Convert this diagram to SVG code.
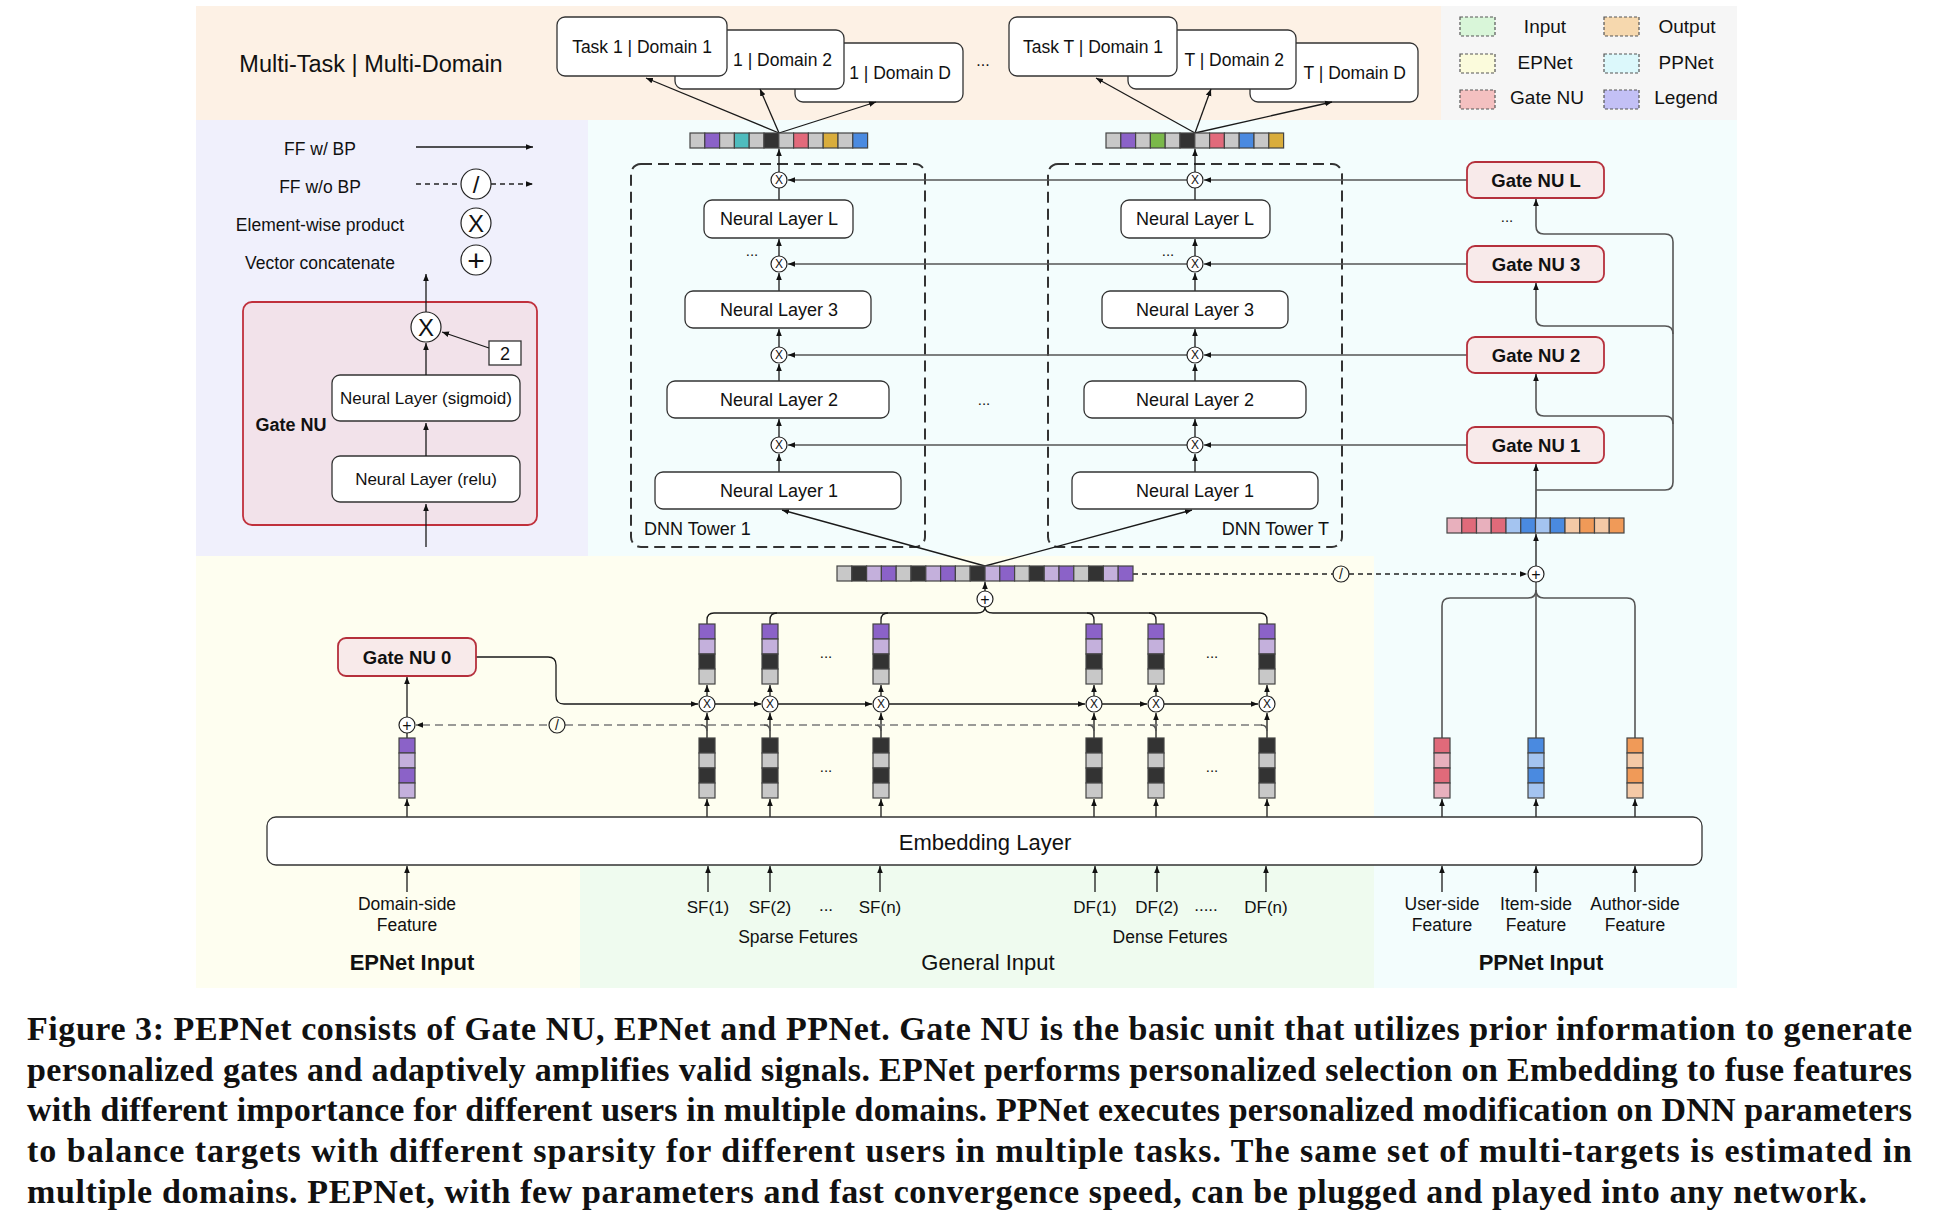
<svg xmlns="http://www.w3.org/2000/svg" xmlns:xlink="http://www.w3.org/1999/xlink" width="1944" height="1226" viewBox="0 0 1944 1226">
<defs>
<style>
.t{font-family:"Liberation Sans",Arial,Helvetica,sans-serif;fill:#111}
.m{text-anchor:middle}
.e{text-anchor:end}
.b{font-weight:bold}
.cap{font-family:"Liberation Serif","Times New Roman",serif;font-weight:bold;font-size:34px;fill:#111}
.ln{stroke:#1a1a1a;stroke-width:1.3;fill:none}
.gl{stroke:#555;stroke-width:1.6;fill:none}
.ds{stroke:#7a7a7a;stroke-width:1.7;fill:none;stroke-dasharray:8 5}
.dk{stroke:#222;stroke-width:1.3;fill:none;stroke-dasharray:5 4}
.tb{stroke:#333;stroke-width:2;fill:none;stroke-dasharray:11 6}
.box{fill:#fff;stroke:#333;stroke-width:1.3}
.gate{fill:#f8eaea;stroke:#b5303c;stroke-width:1.8}
.cir{fill:#fff;stroke:#222;stroke-width:1.2}
.cl{stroke:#444;stroke-width:1.2}
.lg{stroke:#555;stroke-width:1.2;stroke-dasharray:3 2}
</style>
<marker id="a" viewBox="0 0 10 10" refX="10" refY="5" markerWidth="7" markerHeight="7" markerUnits="userSpaceOnUse" orient="auto"><path d="M0,1L10,5L0,9z" fill="#111"/></marker>
<g id="vt">
<rect class="cl" x="-8" y="0" width="16" height="15" fill="#8b62c8"/>
<rect class="cl" x="-8" y="15" width="16" height="15" fill="#c4b0dc"/>
<rect class="cl" x="-8" y="30" width="16" height="15" fill="#333"/>
<rect class="cl" x="-8" y="45" width="16" height="15" fill="#c8c8c8"/>
</g>
<g id="vb">
<rect class="cl" x="-8" y="0" width="16" height="15" fill="#333"/>
<rect class="cl" x="-8" y="15" width="16" height="15" fill="#c8c8c8"/>
<rect class="cl" x="-8" y="30" width="16" height="15" fill="#333"/>
<rect class="cl" x="-8" y="45" width="16" height="15" fill="#c8c8c8"/>
</g>
</defs>

<rect width="1944" height="1226" fill="#fff"/>

<g id="backgrounds">
<rect x="196" y="6" width="1245" height="114" fill="#fdf1e5"/>
<rect x="1441" y="6" width="296" height="114" fill="#f6f6f6"/>
<rect x="196" y="120" width="392" height="436" fill="#f0f0fc"/>
<rect x="588" y="120" width="1149" height="436" fill="#f3fdfd"/>
<rect x="196" y="556" width="1178" height="432" fill="#fefef0"/>
<rect x="580" y="865" width="794" height="123" fill="#effbef"/>
<rect x="1374" y="556" width="363" height="432" fill="#f3fdfd"/>
</g>

<g id="legend-colors">
<rect class="lg" x="1460" y="17" width="35" height="19" fill="#d9f6d9"/>
<rect class="lg" x="1460" y="54" width="35" height="19" fill="#fbfbdc"/>
<rect class="lg" x="1460" y="90" width="35" height="19" fill="#f4c0c0"/>
<rect class="lg" x="1604" y="17" width="35" height="19" fill="#f6d8ae"/>
<rect class="lg" x="1604" y="54" width="35" height="19" fill="#dcf8fb"/>
<rect class="lg" x="1604" y="90" width="35" height="19" fill="#c3c0f6"/>
<text class="t m" x="1545" y="33" font-size="19">Input</text>
<text class="t m" x="1545" y="69" font-size="19">EPNet</text>
<text class="t m" x="1547" y="104" font-size="19">Gate NU</text>
<text class="t m" x="1687" y="33" font-size="19">Output</text>
<text class="t m" x="1686" y="69" font-size="19">PPNet</text>
<text class="t m" x="1686" y="104" font-size="19">Legend</text>
</g>

<g id="title">
<text class="t m" x="371" y="72" font-size="23.5">Multi-Task | Multi-Domain</text>
<text class="t m" x="983" y="66" font-size="16">...</text>
</g>

<g id="tasks-tower1">
<rect class="box" x="795" y="43" width="168" height="59" rx="8"/>
<text class="t e" x="951" y="79" font-size="17.5">1 | Domain D</text>
<rect class="box" x="675" y="30" width="169" height="59" rx="8"/>
<text class="t e" x="832" y="66" font-size="17.5">1 | Domain 2</text>
<rect class="box" x="557" y="17" width="170" height="59" rx="8"/>
<text class="t m" x="642" y="53" font-size="17.5">Task 1 | Domain 1</text>
</g>
<g id="tasks-towerT">
<rect class="box" x="1250" y="43" width="168" height="59" rx="8"/>
<text class="t e" x="1406" y="79" font-size="17.5">T | Domain D</text>
<rect class="box" x="1128" y="30" width="168" height="59" rx="8"/>
<text class="t e" x="1284" y="66" font-size="17.5">T | Domain 2</text>
<rect class="box" x="1009" y="17" width="168" height="59" rx="8"/>
<text class="t m" x="1093" y="53" font-size="17.5">Task T | Domain 1</text>
</g>

<g id="legend-panel">
<text class="t m" x="320" y="155" font-size="17.5">FF w/ BP</text>
<text class="t m" x="320" y="193" font-size="17.5">FF w/o BP</text>
<text class="t m" x="320" y="231" font-size="17.5">Element-wise product</text>
<text class="t m" x="320" y="269" font-size="17.5">Vector concatenate</text>
</g>

<g id="gate-nu-detail">
<rect x="243" y="302" width="294" height="223" rx="9" fill="#f2e2ea" stroke="#c0303c" stroke-width="1.8"/>
<text class="t m b" x="291" y="431" font-size="18">Gate NU</text>
<rect x="489" y="341" width="32" height="24" fill="#fff" stroke="#333" stroke-width="1.3"/>
<text class="t m" x="505" y="360" font-size="18">2</text>
<rect class="box" x="332" y="375" width="188" height="46" rx="8"/>
<text class="t m" x="426" y="404" font-size="17">Neural Layer (sigmoid)</text>
<rect class="box" x="332" y="456" width="188" height="46" rx="8"/>
<text class="t m" x="426" y="485" font-size="17">Neural Layer (relu)</text>
</g>

<g id="tower1-frame"><rect class="tb" x="631" y="164" width="294" height="383" rx="10"/></g>
<g id="towerT-frame"><rect class="tb" x="1048" y="164" width="294" height="383" rx="10"/></g>

<g id="connectors">
<path class="ln" marker-end="url(#a)" d="M779 133L646 78"/>
<path class="ln" marker-end="url(#a)" d="M779 133L760 89"/>
<path class="ln" marker-end="url(#a)" d="M779 133L876 102"/>
<path class="ln" marker-end="url(#a)" d="M1195 133L1096 78"/>
<path class="ln" marker-end="url(#a)" d="M1195 133L1211 89"/>
<path class="ln" marker-end="url(#a)" d="M1195 133L1332 102"/>

<path class="ln" marker-end="url(#a)" d="M416 147H533"/>
<path class="dk" d="M416 184H461"/>
<path class="dk" marker-end="url(#a)" d="M491 184H533"/>
<path class="ln" marker-end="url(#a)" d="M426 312V274"/>
<path class="ln" marker-end="url(#a)" d="M489 348L442 332"/>
<path class="ln" marker-end="url(#a)" d="M426 375V343"/>
<path class="ln" marker-end="url(#a)" d="M426 456V423"/>
<path class="ln" marker-end="url(#a)" d="M426 547V504"/>

<path class="ln" marker-end="url(#a)" d="M779 172V149"/>
<path class="ln" d="M779 188V200"/>
<path class="ln" marker-end="url(#a)" d="M779 256V239"/>
<path class="ln" marker-end="url(#a)" d="M779 291V273"/>
<path class="ln" marker-end="url(#a)" d="M779 347V329"/>
<path class="ln" marker-end="url(#a)" d="M779 381V364"/>
<path class="ln" marker-end="url(#a)" d="M779 437V419"/>
<path class="ln" marker-end="url(#a)" d="M779 472V454"/>
<path class="ln" marker-end="url(#a)" d="M1195 172V149"/>
<path class="ln" d="M1195 188V200"/>
<path class="ln" marker-end="url(#a)" d="M1195 256V239"/>
<path class="ln" marker-end="url(#a)" d="M1195 291V273"/>
<path class="ln" marker-end="url(#a)" d="M1195 347V329"/>
<path class="ln" marker-end="url(#a)" d="M1195 381V364"/>
<path class="ln" marker-end="url(#a)" d="M1195 437V419"/>
<path class="ln" marker-end="url(#a)" d="M1195 472V454"/>

<path class="gl" marker-end="url(#a)" d="M1467 180H1204"/>
<path class="gl" marker-end="url(#a)" d="M1187 180H788"/>
<path class="gl" marker-end="url(#a)" d="M1467 264H1204"/>
<path class="gl" marker-end="url(#a)" d="M1187 264H788"/>
<path class="gl" marker-end="url(#a)" d="M1467 355H1204"/>
<path class="gl" marker-end="url(#a)" d="M1187 355H788"/>
<path class="gl" marker-end="url(#a)" d="M1467 445H1204"/>
<path class="gl" marker-end="url(#a)" d="M1187 445H788"/>

<path class="ln" marker-end="url(#a)" d="M1536 566V534"/>
<path class="ln" marker-end="url(#a)" d="M1536 518V464"/>
<path class="gl" d="M1536 490H1665Q1673 490 1673 482V242Q1673 234 1665 234H1544Q1536 234 1536 226V205"/>
<path class="ln" marker-end="url(#a)" d="M1536 206V199"/>
<path class="gl" d="M1673 334Q1673 326 1665 326H1544Q1536 326 1536 318V288"/>
<path class="ln" marker-end="url(#a)" d="M1536 290V283"/>
<path class="gl" d="M1673 424Q1673 416 1665 416H1544Q1536 416 1536 408V378"/>
<path class="ln" marker-end="url(#a)" d="M1536 380V374"/>

<path class="ln" marker-end="url(#a)" d="M985 566L782 510"/>
<path class="ln" marker-end="url(#a)" d="M985 566L1192 510"/>

<path class="dk" d="M1133 574H1333"/>
<path class="dk" marker-end="url(#a)" d="M1349 574H1527"/>
<path class="gl" d="M1536 738V582"/>
<path class="gl" d="M1442 738V606Q1442 598 1450 598H1528Q1536 598 1536 590"/>
<path class="gl" d="M1635 738V606Q1635 598 1627 598H1544Q1536 598 1536 590"/>

<path class="ln" marker-end="url(#a)" d="M985 591V582"/>
<path class="ln" d="M707 624V620Q707 613 714 613H977Q985 613 985 607"/>
<path class="ln" d="M1267 624V620Q1267 613 1260 613H993Q985 613 985 607"/>
<path class="ln" d="M770 624V620Q770 613 777 613"/>
<path class="ln" d="M881 624V620Q881 613 888 613"/>
<path class="ln" d="M1094 624V620Q1094 613 1087 613"/>
<path class="ln" d="M1156 624V620Q1156 613 1149 613"/>

<path class="ln" marker-end="url(#a)" d="M707 696V685"/>
<path class="ln" marker-end="url(#a)" d="M770 696V685"/>
<path class="ln" marker-end="url(#a)" d="M881 696V685"/>
<path class="ln" marker-end="url(#a)" d="M1094 696V685"/>
<path class="ln" marker-end="url(#a)" d="M1156 696V685"/>
<path class="ln" marker-end="url(#a)" d="M1267 696V685"/>

<path class="ln" marker-end="url(#a)" d="M707 738V713"/>
<path class="ln" marker-end="url(#a)" d="M770 738V713"/>
<path class="ln" marker-end="url(#a)" d="M881 738V713"/>
<path class="ln" marker-end="url(#a)" d="M1094 738V713"/>
<path class="ln" marker-end="url(#a)" d="M1156 738V713"/>
<path class="ln" marker-end="url(#a)" d="M1267 738V713"/>

<path class="ln" marker-end="url(#a)" d="M476 657H548Q556 657 556 665V696Q556 704 564 704H698"/>
<path class="ln" marker-end="url(#a)" d="M715 704H761"/>
<path class="ln" marker-end="url(#a)" d="M778 704H872"/>
<path class="ln" marker-end="url(#a)" d="M889 704H1085"/>
<path class="ln" marker-end="url(#a)" d="M1102 704H1147"/>
<path class="ln" marker-end="url(#a)" d="M1164 704H1258"/>

<path class="ds" marker-end="url(#a)" d="M1262 725H416"/>
<path class="gl" stroke-width="1.2" d="M701 725Q707 725 707 731M764 725Q770 725 770 731M875 725Q881 725 881 731M1088 725Q1094 725 1094 731M1150 725Q1156 725 1156 731M1261 725Q1267 725 1267 731"/>

<path class="ln" marker-end="url(#a)" d="M407 717V677"/>
<path class="ln" d="M407 738V733"/>

<path class="ln" marker-end="url(#a)" d="M407 817V799"/>
<path class="ln" marker-end="url(#a)" d="M707 817V799"/>
<path class="ln" marker-end="url(#a)" d="M770 817V799"/>
<path class="ln" marker-end="url(#a)" d="M881 817V799"/>
<path class="ln" marker-end="url(#a)" d="M1094 817V799"/>
<path class="ln" marker-end="url(#a)" d="M1156 817V799"/>
<path class="ln" marker-end="url(#a)" d="M1267 817V799"/>
<path class="ln" marker-end="url(#a)" d="M1442 817V799"/>
<path class="ln" marker-end="url(#a)" d="M1536 817V799"/>
<path class="ln" marker-end="url(#a)" d="M1635 817V799"/>

<path class="ln" marker-end="url(#a)" d="M407 892V866"/>
<path class="ln" marker-end="url(#a)" d="M708 892V866"/>
<path class="ln" marker-end="url(#a)" d="M770 892V866"/>
<path class="ln" marker-end="url(#a)" d="M880 892V866"/>
<path class="ln" marker-end="url(#a)" d="M1095 892V866"/>
<path class="ln" marker-end="url(#a)" d="M1157 892V866"/>
<path class="ln" marker-end="url(#a)" d="M1266 892V866"/>
<path class="ln" marker-end="url(#a)" d="M1442 892V866"/>
<path class="ln" marker-end="url(#a)" d="M1536 892V866"/>
<path class="ln" marker-end="url(#a)" d="M1635 892V866"/>
</g>

<g id="legend-symbols">
<circle class="cir" cx="476" cy="184" r="15"/>
<text class="t m" x="476" y="192.5" font-size="24">/</text>
<circle class="cir" cx="476" cy="223" r="15"/>
<text class="t m" x="476" y="231.6" font-size="24">X</text>
<circle class="cir" cx="476" cy="260" r="15"/>
<text class="t m" x="476" y="270.6" font-size="30">+</text>
</g>

<g id="gate-nu-product">
<circle class="cir" cx="426" cy="327" r="15"/>
<text class="t m" x="426" y="335.6" font-size="24">X</text>
</g>

<g id="tower1">
<g id="tower1-vector">
<rect class="cl" x="690" y="133" width="14.8" height="15" fill="#c8c8c8"/>
<rect class="cl" x="704.8" y="133" width="14.8" height="15" fill="#8b62c8"/>
<rect class="cl" x="719.6" y="133" width="14.8" height="15" fill="#c8c8c8"/>
<rect class="cl" x="734.4" y="133" width="14.8" height="15" fill="#4fbcbe"/>
<rect class="cl" x="749.2" y="133" width="14.8" height="15" fill="#c8c8c8"/>
<rect class="cl" x="764" y="133" width="14.8" height="15" fill="#333"/>
<rect class="cl" x="778.8" y="133" width="14.8" height="15" fill="#c8c8c8"/>
<rect class="cl" x="793.6" y="133" width="14.8" height="15" fill="#e26a7b"/>
<rect class="cl" x="808.4" y="133" width="14.8" height="15" fill="#c8c8c8"/>
<rect class="cl" x="823.2" y="133" width="14.8" height="15" fill="#d9ad3c"/>
<rect class="cl" x="838" y="133" width="14.8" height="15" fill="#c8c8c8"/>
<rect class="cl" x="852.8" y="133" width="14.8" height="15" fill="#4a8ae0"/>
</g>
<rect class="box" x="704" y="200" width="149" height="38" rx="8"/>
<text class="t m" x="779" y="225" font-size="18">Neural Layer L</text>
<text class="t m" x="752" y="256" font-size="15">...</text>
<rect class="box" x="685" y="291" width="186" height="37" rx="8"/>
<text class="t m" x="779" y="316" font-size="18">Neural Layer 3</text>
<rect class="box" x="667" y="381" width="222" height="37" rx="8"/>
<text class="t m" x="779" y="406" font-size="18">Neural Layer 2</text>
<rect class="box" x="655" y="472" width="246" height="37" rx="8"/>
<text class="t m" x="779" y="497" font-size="18">Neural Layer 1</text>
<text class="t" x="644" y="535" font-size="18">DNN Tower 1</text>
<circle class="cir" cx="779" cy="180" r="8"/><text class="t m" x="779" y="184.3" font-size="12">X</text>
<circle class="cir" cx="779" cy="264" r="8"/><text class="t m" x="779" y="268.3" font-size="12">X</text>
<circle class="cir" cx="779" cy="355" r="8"/><text class="t m" x="779" y="359.3" font-size="12">X</text>
<circle class="cir" cx="779" cy="445" r="8"/><text class="t m" x="779" y="449.3" font-size="12">X</text>
</g>

<g id="towerT">
<g id="towerT-vector">
<rect class="cl" x="1106" y="133" width="14.8" height="15" fill="#c8c8c8"/>
<rect class="cl" x="1120.8" y="133" width="14.8" height="15" fill="#8b62c8"/>
<rect class="cl" x="1135.6" y="133" width="14.8" height="15" fill="#c8c8c8"/>
<rect class="cl" x="1150.4" y="133" width="14.8" height="15" fill="#7ab84a"/>
<rect class="cl" x="1165.2" y="133" width="14.8" height="15" fill="#c8c8c8"/>
<rect class="cl" x="1180" y="133" width="14.8" height="15" fill="#333"/>
<rect class="cl" x="1194.8" y="133" width="14.8" height="15" fill="#c8c8c8"/>
<rect class="cl" x="1209.6" y="133" width="14.8" height="15" fill="#e26a7b"/>
<rect class="cl" x="1224.4" y="133" width="14.8" height="15" fill="#c8c8c8"/>
<rect class="cl" x="1239.2" y="133" width="14.8" height="15" fill="#4a8ae0"/>
<rect class="cl" x="1254" y="133" width="14.8" height="15" fill="#c8c8c8"/>
<rect class="cl" x="1268.8" y="133" width="14.8" height="15" fill="#d9ad3c"/>
</g>
<rect class="box" x="1121" y="200" width="149" height="38" rx="8"/>
<text class="t m" x="1195" y="225" font-size="18">Neural Layer L</text>
<text class="t m" x="1168" y="256" font-size="15">...</text>
<rect class="box" x="1102" y="291" width="186" height="37" rx="8"/>
<text class="t m" x="1195" y="316" font-size="18">Neural Layer 3</text>
<rect class="box" x="1084" y="381" width="222" height="37" rx="8"/>
<text class="t m" x="1195" y="406" font-size="18">Neural Layer 2</text>
<rect class="box" x="1072" y="472" width="246" height="37" rx="8"/>
<text class="t m" x="1195" y="497" font-size="18">Neural Layer 1</text>
<text class="t e" x="1329" y="535" font-size="18">DNN Tower T</text>
<circle class="cir" cx="1195" cy="180" r="8"/><text class="t m" x="1195" y="184.3" font-size="12">X</text>
<circle class="cir" cx="1195" cy="264" r="8"/><text class="t m" x="1195" y="268.3" font-size="12">X</text>
<circle class="cir" cx="1195" cy="355" r="8"/><text class="t m" x="1195" y="359.3" font-size="12">X</text>
<circle class="cir" cx="1195" cy="445" r="8"/><text class="t m" x="1195" y="449.3" font-size="12">X</text>
</g>
<g id="towers-ellipsis"><text class="t m" x="984" y="405" font-size="15">...</text></g>

<g id="gate-nu-L"><rect class="gate" x="1467" y="162" width="137" height="36" rx="8"/><text class="t m b" x="1536" y="187" font-size="18.5">Gate NU L</text></g>
<g id="gates-ellipsis"><text class="t m" x="1507" y="222" font-size="15">...</text></g>
<g id="gate-nu-3"><rect class="gate" x="1467" y="246" width="137" height="36" rx="8"/><text class="t m b" x="1536" y="271" font-size="18.5">Gate NU 3</text></g>
<g id="gate-nu-2"><rect class="gate" x="1467" y="337" width="137" height="36" rx="8"/><text class="t m b" x="1536" y="362" font-size="18.5">Gate NU 2</text></g>
<g id="gate-nu-1"><rect class="gate" x="1467" y="427" width="137" height="36" rx="8"/><text class="t m b" x="1536" y="452" font-size="18.5">Gate NU 1</text></g>

<g id="ppnet-vector">
<rect class="cl" x="1447" y="518" width="14.75" height="15" fill="#e8b0bd"/>
<rect class="cl" x="1461.75" y="518" width="14.75" height="15" fill="#e06a7a"/>
<rect class="cl" x="1476.5" y="518" width="14.75" height="15" fill="#e8b0bd"/>
<rect class="cl" x="1491.25" y="518" width="14.75" height="15" fill="#e06a7a"/>
<rect class="cl" x="1506" y="518" width="14.75" height="15" fill="#a4c4f0"/>
<rect class="cl" x="1520.75" y="518" width="14.75" height="15" fill="#4a8ae0"/>
<rect class="cl" x="1535.5" y="518" width="14.75" height="15" fill="#a4c4f0"/>
<rect class="cl" x="1550.25" y="518" width="14.75" height="15" fill="#4a8ae0"/>
<rect class="cl" x="1565" y="518" width="14.75" height="15" fill="#f4c9a6"/>
<rect class="cl" x="1579.75" y="518" width="14.75" height="15" fill="#f09a58"/>
<rect class="cl" x="1594.5" y="518" width="14.75" height="15" fill="#f4c9a6"/>
<rect class="cl" x="1609.25" y="518" width="14.75" height="15" fill="#f09a58"/>
</g>

<g id="concat-vector">
<rect class="cl" x="837" y="566" width="14.8" height="15" fill="#c8c8c8"/>
<rect class="cl" x="851.8" y="566" width="14.8" height="15" fill="#333"/>
<rect class="cl" x="866.6" y="566" width="14.8" height="15" fill="#c4b0dc"/>
<rect class="cl" x="881.4" y="566" width="14.8" height="15" fill="#8b62c8"/>
<rect class="cl" x="896.2" y="566" width="14.8" height="15" fill="#c8c8c8"/>
<rect class="cl" x="911" y="566" width="14.8" height="15" fill="#333"/>
<rect class="cl" x="925.8" y="566" width="14.8" height="15" fill="#c4b0dc"/>
<rect class="cl" x="940.6" y="566" width="14.8" height="15" fill="#8b62c8"/>
<rect class="cl" x="955.4" y="566" width="14.8" height="15" fill="#c8c8c8"/>
<rect class="cl" x="970.2" y="566" width="14.8" height="15" fill="#333"/>
<rect class="cl" x="985" y="566" width="14.8" height="15" fill="#c4b0dc"/>
<rect class="cl" x="999.8" y="566" width="14.8" height="15" fill="#8b62c8"/>
<rect class="cl" x="1014.6" y="566" width="14.8" height="15" fill="#c8c8c8"/>
<rect class="cl" x="1029.4" y="566" width="14.8" height="15" fill="#333"/>
<rect class="cl" x="1044.2" y="566" width="14.8" height="15" fill="#c4b0dc"/>
<rect class="cl" x="1059" y="566" width="14.8" height="15" fill="#8b62c8"/>
<rect class="cl" x="1073.8" y="566" width="14.8" height="15" fill="#c8c8c8"/>
<rect class="cl" x="1088.6" y="566" width="14.8" height="15" fill="#333"/>
<rect class="cl" x="1103.4" y="566" width="14.8" height="15" fill="#c4b0dc"/>
<rect class="cl" x="1118.2" y="566" width="14.8" height="15" fill="#8b62c8"/>
</g>

<g id="concat-plus"><circle class="cir" cx="985" cy="599" r="8"/><text class="t m" x="985" y="604.7" font-size="16">+</text></g>
<g id="ppnet-plus"><circle class="cir" cx="1536" cy="574" r="8"/><text class="t m" x="1536" y="579.7" font-size="16">+</text></g>
<g id="ppnet-stop"><circle cx="1341" cy="574" r="8" fill="#fefef0" stroke="#222" stroke-width="1.2"/><text class="t m" x="1341" y="579" font-size="14">/</text></g>
<g id="epnet-plus"><circle class="cir" cx="407" cy="725" r="8"/><text class="t m" x="407" y="730.7" font-size="16">+</text></g>
<g id="epnet-stop"><circle cx="557" cy="725" r="8" fill="#fefef0" stroke="#222" stroke-width="1.2"/><text class="t m" x="557" y="730" font-size="14">/</text></g>

<g id="gate-nu-0"><rect class="gate" x="338" y="638" width="138" height="38" rx="8"/><text class="t m b" x="407" y="664" font-size="18.5">Gate NU 0</text></g>

<g id="sparse-features">
<use xlink:href="#vt" x="707" y="624"/>
<use xlink:href="#vt" x="770" y="624"/>
<use xlink:href="#vt" x="881" y="624"/>
<use xlink:href="#vb" x="707" y="738"/>
<use xlink:href="#vb" x="770" y="738"/>
<use xlink:href="#vb" x="881" y="738"/>
<text class="t m" x="826" y="658" font-size="15">...</text>
<text class="t m" x="826" y="772" font-size="15">...</text>
<circle class="cir" cx="707" cy="704" r="8"/><text class="t m" x="707" y="708.3" font-size="12">X</text>
<circle class="cir" cx="770" cy="704" r="8"/><text class="t m" x="770" y="708.3" font-size="12">X</text>
<circle class="cir" cx="881" cy="704" r="8"/><text class="t m" x="881" y="708.3" font-size="12">X</text>
</g>
<g id="dense-features">
<use xlink:href="#vt" x="1094" y="624"/>
<use xlink:href="#vt" x="1156" y="624"/>
<use xlink:href="#vt" x="1267" y="624"/>
<use xlink:href="#vb" x="1094" y="738"/>
<use xlink:href="#vb" x="1156" y="738"/>
<use xlink:href="#vb" x="1267" y="738"/>
<text class="t m" x="1212" y="658" font-size="15">...</text>
<text class="t m" x="1212" y="772" font-size="15">...</text>
<circle class="cir" cx="1094" cy="704" r="8"/><text class="t m" x="1094" y="708.3" font-size="12">X</text>
<circle class="cir" cx="1156" cy="704" r="8"/><text class="t m" x="1156" y="708.3" font-size="12">X</text>
<circle class="cir" cx="1267" cy="704" r="8"/><text class="t m" x="1267" y="708.3" font-size="12">X</text>
</g>

<g id="domain-vector">
<rect class="cl" x="399" y="738" width="16" height="15" fill="#8b62c8"/>
<rect class="cl" x="399" y="753" width="16" height="15" fill="#c4b0dc"/>
<rect class="cl" x="399" y="768" width="16" height="15" fill="#8b62c8"/>
<rect class="cl" x="399" y="783" width="16" height="15" fill="#c4b0dc"/>
</g>
<g id="user-vector">
<rect class="cl" x="1434" y="738" width="16" height="15" fill="#e06a7a"/>
<rect class="cl" x="1434" y="753" width="16" height="15" fill="#e8b0bd"/>
<rect class="cl" x="1434" y="768" width="16" height="15" fill="#e06a7a"/>
<rect class="cl" x="1434" y="783" width="16" height="15" fill="#e8b0bd"/>
</g>
<g id="item-vector">
<rect class="cl" x="1528" y="738" width="16" height="15" fill="#4a8ae0"/>
<rect class="cl" x="1528" y="753" width="16" height="15" fill="#a4c4f0"/>
<rect class="cl" x="1528" y="768" width="16" height="15" fill="#4a8ae0"/>
<rect class="cl" x="1528" y="783" width="16" height="15" fill="#a4c4f0"/>
</g>
<g id="author-vector">
<rect class="cl" x="1627" y="738" width="16" height="15" fill="#f09a58"/>
<rect class="cl" x="1627" y="753" width="16" height="15" fill="#f4c9a6"/>
<rect class="cl" x="1627" y="768" width="16" height="15" fill="#f09a58"/>
<rect class="cl" x="1627" y="783" width="16" height="15" fill="#f4c9a6"/>
</g>

<g id="embedding-layer">
<rect class="box" x="267" y="817" width="1435" height="48" rx="9"/>
<text class="t m" x="985" y="850" font-size="22">Embedding Layer</text>
</g>

<g id="inputs">
<text class="t m" x="407" y="910" font-size="17.5">Domain-side</text>
<text class="t m" x="407" y="931" font-size="17.5">Feature</text>
<text class="t m b" x="412" y="970" font-size="22">EPNet Input</text>
<text class="t m" x="708" y="913" font-size="17">SF(1)</text>
<text class="t m" x="770" y="913" font-size="17">SF(2)</text>
<text class="t m" x="826" y="911" font-size="17">...</text>
<text class="t m" x="880" y="913" font-size="17">SF(n)</text>
<text class="t m" x="798" y="943" font-size="17.5">Sparse Fetures</text>
<text class="t m" x="1095" y="913" font-size="17">DF(1)</text>
<text class="t m" x="1157" y="913" font-size="17">DF(2)</text>
<text class="t m" x="1206" y="911" font-size="17">.....</text>
<text class="t m" x="1266" y="913" font-size="17">DF(n)</text>
<text class="t m" x="1170" y="943" font-size="17.5">Dense Fetures</text>
<text class="t m" x="988" y="970" font-size="22">General Input</text>
<text class="t m" x="1442" y="910" font-size="17.5">User-side</text>
<text class="t m" x="1442" y="931" font-size="17.5">Feature</text>
<text class="t m" x="1536" y="910" font-size="17.5">Item-side</text>
<text class="t m" x="1536" y="931" font-size="17.5">Feature</text>
<text class="t m" x="1635" y="910" font-size="17.5">Author-side</text>
<text class="t m" x="1635" y="931" font-size="17.5">Feature</text>
<text class="t m b" x="1541" y="970" font-size="22">PPNet Input</text>
</g>

<g id="caption">
<text class="cap" x="27" y="1040" textLength="1885" lengthAdjust="spacing">Figure 3: PEPNet consists of Gate NU, EPNet and PPNet. Gate NU is the basic unit that utilizes prior information to generate</text>
<text class="cap" x="27" y="1081" textLength="1885" lengthAdjust="spacing">personalized gates and adaptively amplifies valid signals. EPNet performs personalized selection on Embedding to fuse features</text>
<text class="cap" x="27" y="1121" textLength="1885" lengthAdjust="spacing">with different importance for different users in multiple domains. PPNet executes personalized modification on DNN parameters</text>
<text class="cap" x="27" y="1162" textLength="1885" lengthAdjust="spacing">to balance targets with different sparsity for different users in multiple tasks. The same set of multi-targets is estimated in</text>
<text class="cap" x="27" y="1203" textLength="1840" lengthAdjust="spacing">multiple domains. PEPNet, with few parameters and fast convergence speed, can be plugged and played into any network.</text>
</g>
</svg>
